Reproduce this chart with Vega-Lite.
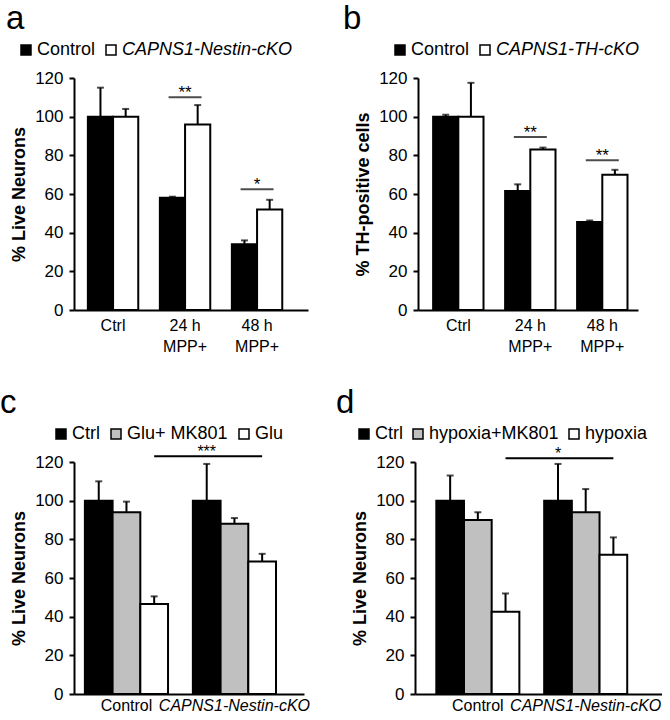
{
  "$schema": "https://vega.github.io/schema/vega-lite/v6.json",
  "padding": {"left": 0, "top": 3, "right": 0, "bottom": 0},
  "background": "white",
  "resolve": {"scale": {"fill": "independent", "xOffset": "independent", "x": "independent", "y": "independent"}, "legend": {"fill": "independent"}},
  "config": {
    "font": "Liberation Sans",
    "view": {"stroke": null},
    "axis": {"domainColor": "black", "domainWidth": 2, "tickColor": "black", "tickWidth": 2, "tickSize": 5, "labelColor": "black", "labelFontSize": 17, "labelFont": "Liberation Sans", "titleFont": "Liberation Sans", "titleFontSize": 18, "titleFontWeight": "bold", "titleColor": "black", "grid": false, "labelOverlap": false},
    "legend": {"orient": "none", "direction": "horizontal", "symbolType": "square", "symbolSize": 100, "symbolStrokeColor": "black", "symbolStrokeWidth": 1.5, "labelFontSize": 18, "labelFont": "Liberation Sans", "labelColor": "black", "labelOffset": 2, "columnPadding": 6, "title": null, "labelLimit": 400},
    "title": {"anchor": "start", "frame": "group", "fontSize": 33, "fontWeight": "normal", "font": "Liberation Sans", "color": "black"}
  },
  "datasets": {
    "a_bars": [
      {"group": "Ctrl", "series": "Control", "value": 100, "upper": 115},
      {"group": "Ctrl", "series": "CAPNS1-Nestin-cKO", "value": 100, "upper": 104},
      {"group": "24 h MPP+", "series": "Control", "value": 58, "upper": 58.6},
      {"group": "24 h MPP+", "series": "CAPNS1-Nestin-cKO", "value": 96, "upper": 106},
      {"group": "48 h MPP+", "series": "Control", "value": 34, "upper": 36},
      {"group": "48 h MPP+", "series": "CAPNS1-Nestin-cKO", "value": 52, "upper": 57}
    ],
    "a_sig": [
      {"group": "24 h MPP+", "y": 110, "label": "**"},
      {"group": "48 h MPP+", "y": 62.5, "label": "*"}
    ],
    "b_bars": [
      {"group": "Ctrl", "series": "Control", "value": 100, "upper": 101},
      {"group": "Ctrl", "series": "CAPNS1-TH-cKO", "value": 100, "upper": 117.5},
      {"group": "24 h MPP+", "series": "Control", "value": 61.5, "upper": 65},
      {"group": "24 h MPP+", "series": "CAPNS1-TH-cKO", "value": 83, "upper": 84},
      {"group": "48 h MPP+", "series": "Control", "value": 45.5, "upper": 46.3},
      {"group": "48 h MPP+", "series": "CAPNS1-TH-cKO", "value": 70, "upper": 72.5}
    ],
    "b_sig": [
      {"group": "24 h MPP+", "y": 89.5, "label": "**"},
      {"group": "48 h MPP+", "y": 77.5, "label": "**"}
    ],
    "c_bars": [
      {"group": "Control", "series": "Ctrl", "value": 100, "upper": 110},
      {"group": "Control", "series": "Glu+ MK801", "value": 94, "upper": 99.5},
      {"group": "Control", "series": "Glu", "value": 46.5, "upper": 50.5},
      {"group": "CAPNS1-Nestin-cKO", "series": "Ctrl", "value": 100, "upper": 119},
      {"group": "CAPNS1-Nestin-cKO", "series": "Glu+ MK801", "value": 88, "upper": 91},
      {"group": "CAPNS1-Nestin-cKO", "series": "Glu", "value": 68.5, "upper": 72.5}
    ],
    "c_sig": [
      {"group": "Control", "series": "Glu", "y": 123},
      {"group": "CAPNS1-Nestin-cKO", "series": "Glu", "y": 123}
    ],
    "c_star": [
      {"group": "CAPNS1-Nestin-cKO", "series": "Ctrl", "y": 123, "label": "***"}
    ],
    "d_bars": [
      {"group": "Control", "series": "Ctrl", "value": 100, "upper": 113},
      {"group": "Control", "series": "hypoxia+MK801", "value": 90, "upper": 94},
      {"group": "Control", "series": "hypoxia", "value": 42.5, "upper": 52},
      {"group": "CAPNS1-Nestin-cKO", "series": "Ctrl", "value": 100, "upper": 119},
      {"group": "CAPNS1-Nestin-cKO", "series": "hypoxia+MK801", "value": 94, "upper": 106},
      {"group": "CAPNS1-Nestin-cKO", "series": "hypoxia", "value": 72, "upper": 81}
    ],
    "d_sig": [
      {"group": "Control", "series": "hypoxia", "y": 122},
      {"group": "CAPNS1-Nestin-cKO", "series": "hypoxia", "y": 122}
    ],
    "d_star": [
      {"group": "CAPNS1-Nestin-cKO", "series": "Ctrl", "y": 122, "label": "*"}
    ]
  },
  "spacing": 33,
  "vconcat": [
    {
      "spacing": 35,
      "resolve": {"scale": {"fill": "independent", "xOffset": "independent", "x": "independent", "y": "independent"}, "legend": {"fill": "independent"}},
      "hconcat": [
        {
          "width": 234, "height": 232,
          "title": {"text": "a", "dx": -68, "offset": 5},
          "data": {"name": "a_bars"},
          "layer": [
            {
              "mark": {"type": "bar", "stroke": "black", "strokeWidth": 2},
              "encoding": {
                "x": {"field": "group", "type": "nominal", "sort": ["Ctrl", "24 h MPP+", "48 h MPP+"], "scale": {"paddingInner": 0.3, "paddingOuter": 0.275, "align": 0.35}, "axis": {"title": null, "labelAngle": 0, "ticks": false, "labelFontSize": 16, "labelPadding": 7, "labelLineHeight": 21, "labelExpr": "datum.label == 'Ctrl' ? 'Ctrl' : [slice(datum.label, 0, 4), 'MPP+']"}},
                "xOffset": {"field": "series", "type": "nominal", "sort": ["Control", "CAPNS1-Nestin-cKO"], "scale": {"paddingInner": 0, "paddingOuter": 0}},
                "y": {"field": "value", "type": "quantitative", "scale": {"domain": [0, 120], "nice": false}, "axis": {"title": "% Live Neurons", "values": [0, 20, 40, 60, 80, 100, 120], "tickCount": 7, "labelPadding": 6, "titlePadding": 6}},
                "fill": {"field": "series", "type": "nominal", "scale": {"domain": ["Control", "CAPNS1-Nestin-cKO"], "range": ["black", "white"]}, "legend": {"legendX": -57, "legendY": -37, "encode": {"labels": {"update": {"fontStyle": {"signal": "indexof(datum.label, 'CAPNS1') >= 0 ? 'italic' : 'normal'"}}}}}}
              }
            },
            {
              "mark": {"type": "rule", "strokeWidth": 2, "color": "black"},
              "encoding": {
                "x": {"field": "group", "type": "nominal", "sort": ["Ctrl", "24 h MPP+", "48 h MPP+"]},
                "xOffset": {"field": "series", "type": "nominal", "sort": ["Control", "CAPNS1-Nestin-cKO"]},
                "y": {"field": "value", "type": "quantitative", "title": "% Live Neurons"},
                "y2": {"field": "upper"}
              }
            },
            {
              "mark": {"type": "tick", "orient": "horizontal", "size": 7, "thickness": 2, "color": "black"},
              "encoding": {
                "x": {"field": "group", "type": "nominal", "sort": ["Ctrl", "24 h MPP+", "48 h MPP+"]},
                "xOffset": {"field": "series", "type": "nominal", "sort": ["Control", "CAPNS1-Nestin-cKO"]},
                "y": {"field": "upper", "type": "quantitative", "title": "% Live Neurons"}
              }
            },
            {
              "data": {"name": "a_sig"},
              "mark": {"type": "tick", "orient": "horizontal", "size": 33, "thickness": 2, "color": "black"},
              "encoding": {
                "x": {"field": "group", "type": "nominal", "sort": ["Ctrl", "24 h MPP+", "48 h MPP+"]},
                "y": {"field": "y", "type": "quantitative", "title": "% Live Neurons"}
              }
            },
            {
              "data": {"name": "a_sig"},
              "mark": {"type": "text", "fontSize": 17, "baseline": "alphabetic", "dy": 1, "color": "black"},
              "encoding": {
                "x": {"field": "group", "type": "nominal", "sort": ["Ctrl", "24 h MPP+", "48 h MPP+"]},
                "y": {"field": "y", "type": "quantitative", "title": "% Live Neurons"},
                "text": {"field": "label"}
              }
            }
          ]
        },
        {
          "width": 220, "height": 232,
          "title": {"text": "b", "dx": -75, "offset": 5},
          "data": {"name": "b_bars"},
          "layer": [
            {
              "mark": {"type": "bar", "stroke": "black", "strokeWidth": 2},
              "encoding": {
                "x": {"field": "group", "type": "nominal", "sort": ["Ctrl", "24 h MPP+", "48 h MPP+"], "scale": {"paddingInner": 0.3, "paddingOuter": 0.178, "align": 0.59}, "axis": {"title": null, "labelAngle": 0, "ticks": false, "labelFontSize": 16, "labelPadding": 7, "labelLineHeight": 21, "labelExpr": "datum.label == 'Ctrl' ? 'Ctrl' : [slice(datum.label, 0, 4), 'MPP+']"}},
                "xOffset": {"field": "series", "type": "nominal", "sort": ["Control", "CAPNS1-TH-cKO"], "scale": {"paddingInner": 0, "paddingOuter": 0}},
                "y": {"field": "value", "type": "quantitative", "scale": {"domain": [0, 120], "nice": false}, "axis": {"title": "% TH-positive cells", "values": [0, 20, 40, 60, 80, 100, 120], "tickCount": 7, "labelPadding": 6, "titlePadding": 6}},
                "fill": {"field": "series", "type": "nominal", "scale": {"domain": ["Control", "CAPNS1-TH-cKO"], "range": ["black", "white"]}, "legend": {"legendX": -27, "legendY": -37, "encode": {"labels": {"update": {"fontStyle": {"signal": "indexof(datum.label, 'CAPNS1') >= 0 ? 'italic' : 'normal'"}}}}}}
              }
            },
            {
              "mark": {"type": "rule", "strokeWidth": 2, "color": "black"},
              "encoding": {
                "x": {"field": "group", "type": "nominal", "sort": ["Ctrl", "24 h MPP+", "48 h MPP+"]},
                "xOffset": {"field": "series", "type": "nominal", "sort": ["Control", "CAPNS1-TH-cKO"]},
                "y": {"field": "value", "type": "quantitative", "title": "% TH-positive cells"},
                "y2": {"field": "upper"}
              }
            },
            {
              "mark": {"type": "tick", "orient": "horizontal", "size": 7, "thickness": 2, "color": "black"},
              "encoding": {
                "x": {"field": "group", "type": "nominal", "sort": ["Ctrl", "24 h MPP+", "48 h MPP+"]},
                "xOffset": {"field": "series", "type": "nominal", "sort": ["Control", "CAPNS1-TH-cKO"]},
                "y": {"field": "upper", "type": "quantitative", "title": "% TH-positive cells"}
              }
            },
            {
              "data": {"name": "b_sig"},
              "mark": {"type": "tick", "orient": "horizontal", "size": 33, "thickness": 2, "color": "black"},
              "encoding": {
                "x": {"field": "group", "type": "nominal", "sort": ["Ctrl", "24 h MPP+", "48 h MPP+"]},
                "y": {"field": "y", "type": "quantitative", "title": "% TH-positive cells"}
              }
            },
            {
              "data": {"name": "b_sig"},
              "mark": {"type": "text", "fontSize": 17, "baseline": "alphabetic", "dy": 1, "color": "black"},
              "encoding": {
                "x": {"field": "group", "type": "nominal", "sort": ["Ctrl", "24 h MPP+", "48 h MPP+"]},
                "y": {"field": "y", "type": "quantitative", "title": "% TH-positive cells"},
                "text": {"field": "label"}
              }
            }
          ]
        }
      ]
    },
    {
      "spacing": 26,
      "resolve": {"scale": {"fill": "independent", "xOffset": "independent", "x": "independent", "y": "independent"}, "legend": {"fill": "independent"}},
      "hconcat": [
        {
          "width": 230, "height": 232,
          "title": {"text": "c", "dx": -74, "offset": 5},
          "data": {"name": "c_bars"},
          "layer": [
            {
              "mark": {"type": "bar", "stroke": "black", "strokeWidth": 2},
              "encoding": {
                "x": {"field": "group", "type": "nominal", "sort": ["Control", "CAPNS1-Nestin-cKO"], "scale": {"paddingInner": 0.23, "paddingOuter": 0.18, "align": 0.28}, "axis": {"title": null, "labelAngle": 0, "ticks": false, "labelFontSize": 16, "labelPadding": 3, "labelFontStyle": {"condition": {"test": "datum.value == 'CAPNS1-Nestin-cKO'", "value": "italic"}, "value": "normal"}}},
                "xOffset": {"field": "series", "type": "nominal", "sort": ["Ctrl", "Glu+ MK801", "Glu"], "scale": {"paddingInner": 0, "paddingOuter": 0}},
                "y": {"field": "value", "type": "quantitative", "scale": {"domain": [0, 120], "nice": false}, "axis": {"title": "% Live Neurons", "values": [0, 20, 40, 60, 80, 100, 120], "tickCount": 7, "labelPadding": 6, "titlePadding": 6}},
                "fill": {"field": "series", "type": "nominal", "scale": {"domain": ["Ctrl", "Glu+ MK801", "Glu"], "range": ["black", "#c0c0c0", "white"]}, "legend": {"legendX": -22, "legendY": -37, "columnPadding": 7}}
              }
            },
            {
              "mark": {"type": "rule", "strokeWidth": 2, "color": "black"},
              "encoding": {
                "x": {"field": "group", "type": "nominal", "sort": ["Control", "CAPNS1-Nestin-cKO"]},
                "xOffset": {"field": "series", "type": "nominal", "sort": ["Ctrl", "Glu+ MK801", "Glu"]},
                "y": {"field": "value", "type": "quantitative", "title": "% Live Neurons"},
                "y2": {"field": "upper"}
              }
            },
            {
              "mark": {"type": "tick", "orient": "horizontal", "size": 7, "thickness": 2, "color": "black"},
              "encoding": {
                "x": {"field": "group", "type": "nominal", "sort": ["Control", "CAPNS1-Nestin-cKO"]},
                "xOffset": {"field": "series", "type": "nominal", "sort": ["Ctrl", "Glu+ MK801", "Glu"]},
                "y": {"field": "upper", "type": "quantitative", "title": "% Live Neurons"}
              }
            },
            {
              "data": {"name": "c_sig"},
              "mark": {"type": "line", "strokeWidth": 2, "color": "black"},
              "encoding": {
                "x": {"field": "group", "type": "nominal", "sort": ["Control", "CAPNS1-Nestin-cKO"]},
                "xOffset": {"field": "series", "type": "nominal", "sort": ["Ctrl", "Glu+ MK801", "Glu"]},
                "y": {"field": "y", "type": "quantitative", "title": "% Live Neurons"}
              }
            },
            {
              "data": {"name": "c_star"},
              "mark": {"type": "text", "fontSize": 16, "baseline": "alphabetic", "dy": 1, "color": "black"},
              "encoding": {
                "x": {"field": "group", "type": "nominal", "sort": ["Control", "CAPNS1-Nestin-cKO"]},
                "xOffset": {"field": "series", "type": "nominal", "sort": ["Ctrl", "Glu+ MK801", "Glu"]},
                "y": {"field": "y", "type": "quantitative", "title": "% Live Neurons"},
                "text": {"field": "label"}
              }
            }
          ]
        },
        {
          "width": 247, "height": 232,
          "title": {"text": "d", "dx": -79, "offset": 5},
          "data": {"name": "d_bars"},
          "layer": [
            {
              "mark": {"type": "bar", "stroke": "black", "strokeWidth": 2},
              "encoding": {
                "x": {"field": "group", "type": "nominal", "sort": ["Control", "CAPNS1-Nestin-cKO"], "scale": {"paddingInner": 0.23, "paddingOuter": 0.26, "align": 0.38}, "axis": {"title": null, "labelAngle": 0, "ticks": false, "labelFontSize": 16, "labelPadding": 3, "labelFontStyle": {"condition": {"test": "datum.value == 'CAPNS1-Nestin-cKO'", "value": "italic"}, "value": "normal"}}},
                "xOffset": {"field": "series", "type": "nominal", "sort": ["Ctrl", "hypoxia+MK801", "hypoxia"], "scale": {"paddingInner": 0, "paddingOuter": 0}},
                "y": {"field": "value", "type": "quantitative", "scale": {"domain": [0, 120], "nice": false}, "axis": {"title": "% Live Neurons", "values": [0, 20, 40, 60, 80, 100, 120], "tickCount": 7, "labelPadding": 6, "titlePadding": 6}},
                "fill": {"field": "series", "type": "nominal", "scale": {"domain": ["Ctrl", "hypoxia+MK801", "hypoxia"], "range": ["black", "#c0c0c0", "white"]}, "legend": {"legendX": -60, "legendY": -37, "columnPadding": 6}}
              }
            },
            {
              "mark": {"type": "rule", "strokeWidth": 2, "color": "black"},
              "encoding": {
                "x": {"field": "group", "type": "nominal", "sort": ["Control", "CAPNS1-Nestin-cKO"]},
                "xOffset": {"field": "series", "type": "nominal", "sort": ["Ctrl", "hypoxia+MK801", "hypoxia"]},
                "y": {"field": "value", "type": "quantitative", "title": "% Live Neurons"},
                "y2": {"field": "upper"}
              }
            },
            {
              "mark": {"type": "tick", "orient": "horizontal", "size": 7, "thickness": 2, "color": "black"},
              "encoding": {
                "x": {"field": "group", "type": "nominal", "sort": ["Control", "CAPNS1-Nestin-cKO"]},
                "xOffset": {"field": "series", "type": "nominal", "sort": ["Ctrl", "hypoxia+MK801", "hypoxia"]},
                "y": {"field": "upper", "type": "quantitative", "title": "% Live Neurons"}
              }
            },
            {
              "data": {"name": "d_sig"},
              "mark": {"type": "line", "strokeWidth": 2, "color": "black"},
              "encoding": {
                "x": {"field": "group", "type": "nominal", "sort": ["Control", "CAPNS1-Nestin-cKO"]},
                "xOffset": {"field": "series", "type": "nominal", "sort": ["Ctrl", "hypoxia+MK801", "hypoxia"]},
                "y": {"field": "y", "type": "quantitative", "title": "% Live Neurons"}
              }
            },
            {
              "data": {"name": "d_star"},
              "mark": {"type": "text", "fontSize": 16, "baseline": "alphabetic", "dy": 1, "color": "black"},
              "encoding": {
                "x": {"field": "group", "type": "nominal", "sort": ["Control", "CAPNS1-Nestin-cKO"]},
                "xOffset": {"field": "series", "type": "nominal", "sort": ["Ctrl", "hypoxia+MK801", "hypoxia"]},
                "y": {"field": "y", "type": "quantitative", "title": "% Live Neurons"},
                "text": {"field": "label"}
              }
            }
          ]
        }
      ]
    }
  ]
}
